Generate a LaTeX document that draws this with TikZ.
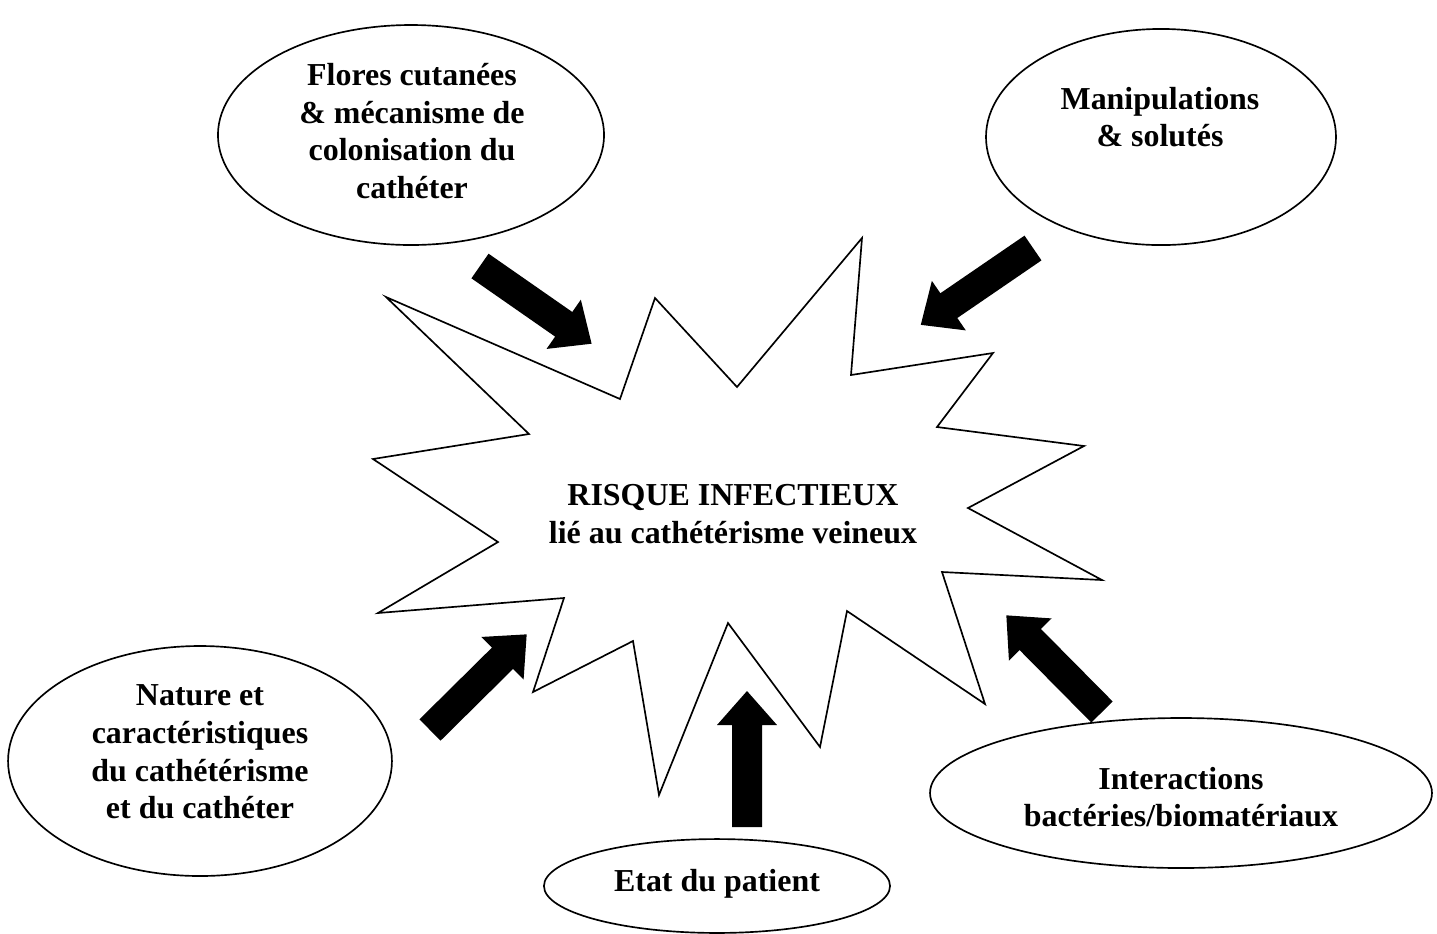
\documentclass[tikz,border=0pt]{standalone}
\usepackage{fontspec}
\setmainfont{Liberation Serif}
\usetikzlibrary{shapes.geometric}

\begin{document}
\begin{tikzpicture}[
                x=0.36pt, y=-0.36pt,
                bubble/.style={ellipse, draw, line width=0.6pt, inner sep=0pt},
                txt/.style={font=\fontsize{11.5}{13.6}\selectfont\bfseries, align=center, inner sep=0pt},
                burst/.style={draw, line width=0.6pt, line join=miter},
                fatarrow/.pic={\fill (0,-15) -- (102,-15) -- (102,-30) -- (136,0) -- (102,30) -- (102,15) -- (0,15) -- cycle;}
            ]
                \useasboundingbox (0,0) rectangle (1437,933);

                % Central burst
                \draw[burst] (942,572) -- (985,704) -- (847,611) -- (820,747) -- (728,623)
                    -- (659,795) -- (633,641) -- (533,692) -- (564,598) -- (378,613)
                    -- (498,542) -- (373,459) -- (529,434) -- (386,297) -- (620,399)
                    -- (655,298) -- (737,387) -- (862,238) -- (851,375) -- (993,353)
                    -- (937,427) -- (1084,446) -- (968,508) -- (1102,580) -- cycle;
                \node[txt] (risk) at (733,514) {RISQUE INFECTIEUX\\lié au cathétérisme veineux};

                % Factors
                \node[bubble, minimum width=139pt, minimum height=79.2pt] (flores) at (411,135) {};
                \node[txt] (floresTxt) at (412,131) {Flores cutanées\\\& mécanisme de\\colonisation du\\cathéter};
                \node[bubble, minimum width=126pt, minimum height=77.8pt] (manip) at (1161,137) {};
                \node[txt] (manipTxt) at (1160,117) {Manipulations\\\& solutés};
                \node[bubble, minimum width=138.2pt, minimum height=82.8pt] (nature) at (200,761) {};
                \node[txt] (natureTxt) at (200,752) {Nature et\\caractéristiques\\du cathétérisme\\et du cathéter};
                \node[bubble, minimum width=180.7pt, minimum height=54pt] (inter) at (1181,793) {};
                \node[txt] (interTxt) at (1181,797) {Interactions\\bactéries/biomatériaux};
                \node[bubble, minimum width=124.6pt, minimum height=33.8pt] (etat) at (717,886) {};
                \node[txt] (etatTxt) at (717,884) {Etat du patient};

                % Arrows
                \pic[rotate=-34.85] at (480,266) {fatarrow};
                \pic[rotate=-145.6] at (1033,248) {fatarrow};
                \pic[rotate=44.7] at (430,730) {fatarrow};
                \pic[rotate=134.7] at (1102,712) {fatarrow};
                \pic[rotate=90] at (747,827) {fatarrow};
            \end{tikzpicture}
\end{document}
